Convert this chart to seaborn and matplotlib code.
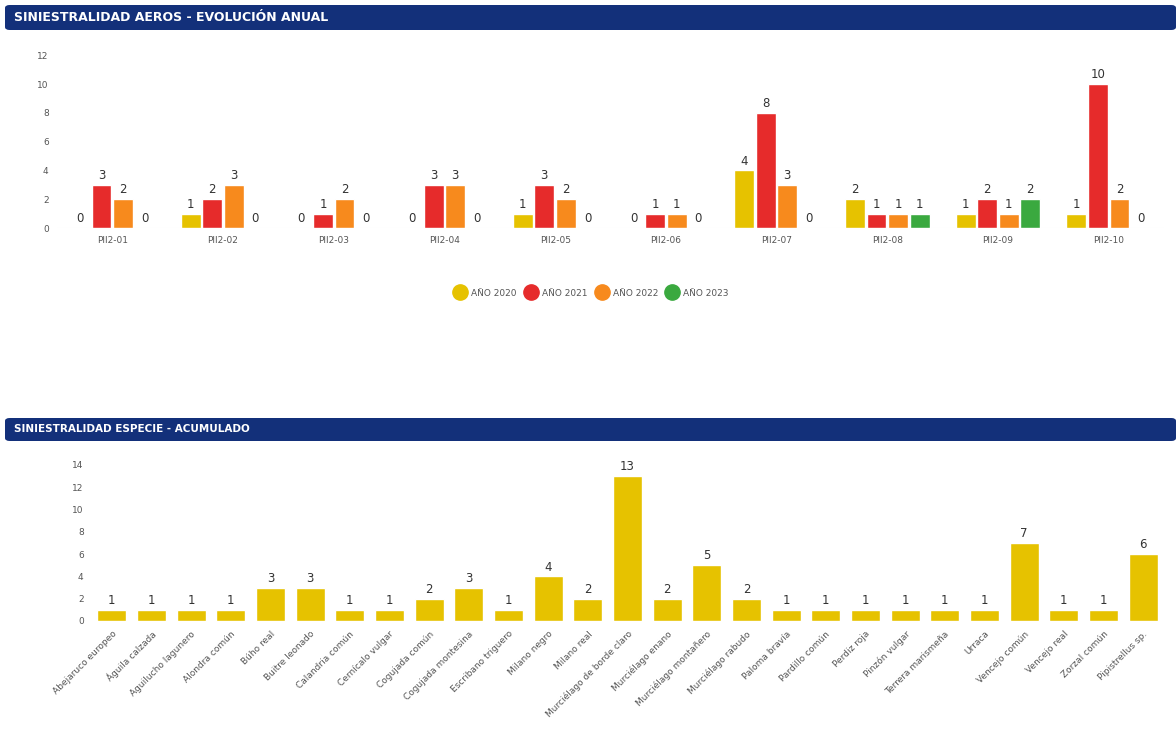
import pandas as pd
import numpy as np
import matplotlib
matplotlib.use("Agg")
import matplotlib.pyplot as plt
import seaborn as sns
from matplotlib.patches import FancyBboxPatch

# --- datos ---
aeros = ["PII2-01", "PII2-02", "PII2-03", "PII2-04", "PII2-05",
         "PII2-06", "PII2-07", "PII2-08", "PII2-09", "PII2-10"]
anios = ["AÑO 2020", "AÑO 2021", "AÑO 2022", "AÑO 2023"]
v2020 = [0, 1, 0, 0, 1, 0, 4, 2, 1, 1]
v2021 = [3, 2, 1, 3, 3, 1, 8, 1, 2, 10]
v2022 = [2, 3, 2, 3, 2, 1, 3, 1, 1, 2]
v2023 = [0, 0, 0, 0, 0, 0, 0, 1, 2, 0]

especies = ["Abejaruco europeo", "Águila calzada", "Aguilucho lagunero", "Alondra común",
            "Búho real", "Buitre leonado", "Calandria común", "Cernícalo vulgar",
            "Cogujada común", "Cogujada montesina", "Escribano triguero", "Milano negro",
            "Milano real", "Murciélago de borde claro", "Murciélago enano",
            "Murciélago montañero", "Murciélago rabudo", "Paloma bravía", "Pardillo común",
            "Perdiz roja", "Pinzón vulgar", "Terrera marismeña", "Urraca", "Vencejo común",
            "Vencejo real", "Zorzal común", "Pipistrellus sp."]
acumulado = [1, 1, 1, 1, 3, 3, 1, 1, 2, 3, 1, 4, 2, 13, 2, 5, 2, 1, 1, 1, 1, 1, 1, 7, 1, 1, 6]

colores = ["#e6c200", "#e62b2b", "#f78a1d", "#3aa93f"]
navy = "#13307a"
gris = "#555555"

df_anual = pd.DataFrame({
    "aero": aeros * 4,
    "anio": np.repeat(anios, len(aeros)),
    "valor": v2020 + v2021 + v2022 + v2023,
})
df_esp = pd.DataFrame({"especie": especies, "valor": acumulado})

sns.set_theme(style="white")
plt.rcParams["font.family"] = ["DejaVu Sans"]

W, H = 1176, 742
fig = plt.figure(figsize=(W / 100, H / 100), dpi=100)


def px_axes(left, top, right, bottom):
    return fig.add_axes([left / W, 1 - bottom / H, (right - left) / W, (bottom - top) / H])


def cabecera(top, bottom, texto, size):
    box = FancyBboxPatch((5 / W, 1 - bottom / H), (W - 5) / W, (bottom - top) / H,
                         boxstyle="round,pad=0,rounding_size=0.004",
                         transform=fig.transFigure, facecolor=navy, edgecolor="none")
    fig.patches.append(box)
    fig.text(14 / W, 1 - (top + bottom) / 2 / H, texto, color="white", fontsize=size,
             fontweight="bold", va="center", ha="left")


# --- gráfico 1: evolución anual ---
cabecera(5, 30, "SINIESTRALIDAD AEROS - EVOLUCIÓN ANUAL", 9)
ax1 = px_axes(57, 48, 1164, 228)
sns.barplot(data=df_anual, x="aero", y="valor", hue="anio", palette=colores,
            saturation=1, width=0.78, gap=0.08, ax=ax1, legend=True)
for c in ax1.containers:
    ax1.bar_label(c, fontsize=8.5, color="#333333", padding=2)
ax1.set_ylim(0, 12.5)
ax1.set_xlim(-0.5, 9.5)
ax1.set_yticks(range(0, 13, 2))
ax1.tick_params(axis="both", labelsize=6.5, colors=gris, length=0, pad=6)
ax1.set_xlabel("")
ax1.set_ylabel("")
sns.despine(ax=ax1, left=True, bottom=True)
ax1.axhline(0, color="#eeeeee", lw=0.8, zorder=0)
ax1.legend_.remove()
marcas = [plt.Line2D([], [], marker="o", ls="", markersize=11, color=c) for c in colores]
fig.legend(marcas, anios, loc="center", bbox_to_anchor=(590 / W, 1 - 293 / H), ncol=4,
           frameon=False, fontsize=6.5, handletextpad=0.2, columnspacing=0.6,
           labelcolor=gris)

# --- gráfico 2: especie acumulado ---
cabecera(418, 441, "SINIESTRALIDAD ESPECIE - ACUMULADO", 7.5)
ax2 = px_axes(92, 458, 1163, 621)
sns.barplot(data=df_esp, x="especie", y="valor", color=colores[0], saturation=1,
            width=0.73, ax=ax2)
for c in ax2.containers:
    ax2.bar_label(c, fontsize=8.5, color="#333333", padding=2)
ax2.set_ylim(0, 14.6)
ax2.set_xlim(-0.5, 26.5)
ax2.set_yticks(range(0, 15, 2))
ax2.tick_params(axis="both", labelsize=6.5, colors=gris, length=0, pad=6)
plt.setp(ax2.get_xticklabels(), rotation=45, ha="right", rotation_mode="anchor")
ax2.set_xlabel("")
ax2.set_ylabel("")
sns.despine(ax=ax2, left=True, bottom=True)

fig.savefig("out.png", dpi=100, facecolor="white")
